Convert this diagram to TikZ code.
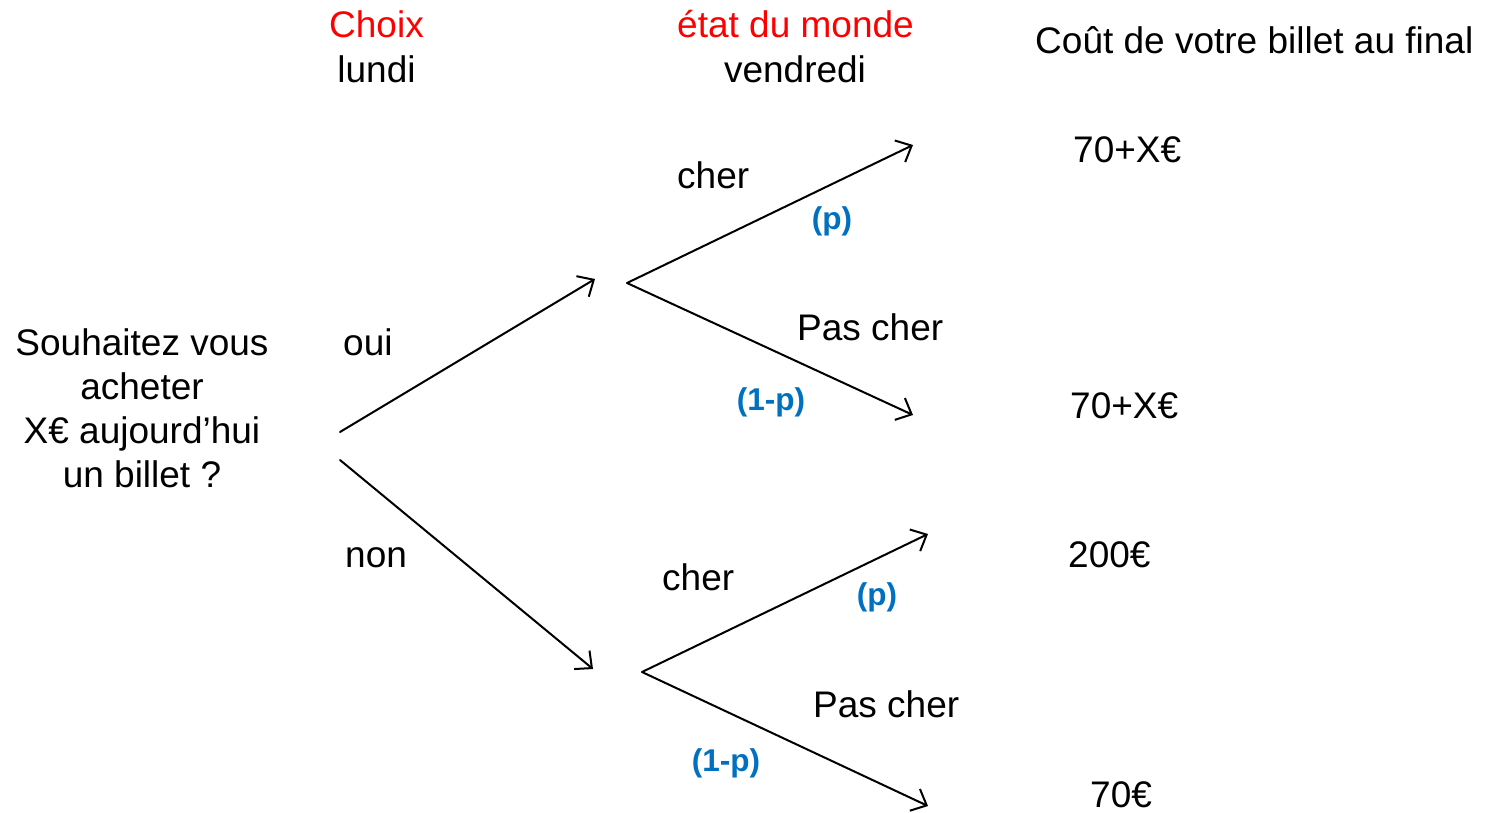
\documentclass[tikz,border=0pt]{standalone}
\usepackage{fontspec}
\setmainfont{Liberation Sans}
\usetikzlibrary{arrows.meta}
\definecolor{hdred}{HTML}{FF0000}
\definecolor{pblue}{HTML}{0070C0}
\tikzset{
  txt/.style={inner sep=0pt, font=\fontsize{37}{44}\selectfont},
  lbl/.style={txt, anchor=base west},
  hdr/.style={txt, anchor=base},
  prob/.style={inner sep=0pt, anchor=base, text=pblue, font=\fontsize{31.5}{38}\selectfont\bfseries},
  branch/.style={line width=2pt, line cap=round},
  arr/.style={branch, -{Straight Barb[length=13pt,width=24pt,line width=2pt]}},
}
\begin{document}
\begin{tikzpicture}[x=1pt,y=-1pt]
\useasboundingbox (0,0) rectangle (1488,812);
% headers
\node[hdr, text=hdred] (choix) at (376.5,37) {Choix};
\node[hdr] (lundi) at (376.5,82) {lundi};
\node[hdr, text=hdred] (etat) at (795.5,37) {état du monde};
\node[hdr] (vendr) at (795,82) {vendredi};
\node[lbl] (cout) at (1035,53) {Coût de votre billet au final};
% question
\node[txt, align=center, anchor=north] (q) at (142,328) {Souhaitez vous\\acheter\\X€ aujourd’hui\\un billet ?};
% points
\coordinate (r1) at (340,432);
\coordinate (r2) at (340,460);
\coordinate (a1) at (595,279);
\coordinate (a2) at (593,669);
\coordinate (s1) at (627,283);
\coordinate (s2) at (642,672);
\coordinate (e1) at (913,145);
\coordinate (e2) at (913,415);
\coordinate (e3) at (928,534);
\coordinate (e4) at (928,806);
% connectors
\draw[arr] (r1) -- (a1);
\draw[arr] (r2) -- (a2);
\draw[arr] (s1) -- (e1);
\draw[arr] (s1) -- (e2);
\draw[arr] (s2) -- (e3);
\draw[arr] (s2) -- (e4);
% choice labels
\node[lbl] (oui) at (343,355) {oui};
\node[lbl] (non) at (345,567) {non};
% state labels
\node[lbl] (c1) at (677,188) {cher};
\node[lbl] (pc1) at (797,340) {Pas cher};
\node[lbl] (c2) at (662,590) {cher};
\node[lbl] (pc2) at (813,717) {Pas cher};
% probabilities
\node[prob] (p1) at (832,229) {(p)};
\node[prob] (q1) at (771,410) {(1-p)};
\node[prob] (p2) at (877,605) {(p)};
\node[prob] (q2) at (726,771) {(1-p)};
% outcomes
\node[lbl] (o1) at (1073,162) {70+X€};
\node[lbl] (o2) at (1070,418) {70+X€};
\node[lbl] (o3) at (1068,567) {200€};
\node[lbl] (o4) at (1090,807) {70€};
\end{tikzpicture}
\end{document}
